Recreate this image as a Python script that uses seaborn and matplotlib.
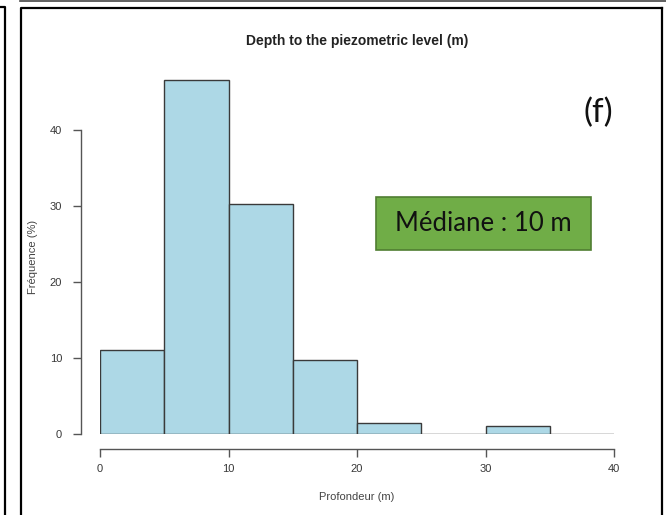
import matplotlib
matplotlib.use("Agg")
import matplotlib.pyplot as plt
from matplotlib.lines import Line2D
from matplotlib.patches import Rectangle
import seaborn as sns
import numpy as np
import pandas as pd

# ---- data ----
bin_edges = [0, 5, 10, 15, 20, 25, 30, 35, 40]
bin_pct = [11.0, 46.6, 30.2, 9.7, 1.4, 0.0, 1.0, 0.0]
x_ticks = [0, 10, 20, 30, 40]
y_ticks = [0, 10, 20, 30, 40]
title = "Depth to the piezometric level (m)"
x_label = "Profondeur (m)"
y_label = "Fréquence (%)"
median_text = "Médiane : 10 m"
panel_tag = "(f)"

sns.set_theme(style="white")
plt.rcParams['font.family'] = ['Liberation Sans', 'DejaVu Sans']

W, H = 666, 515
fig = plt.figure(figsize=(W / 100, H / 100), dpi=100)
fig.patch.set_facecolor("white")

# axes placement (pixel based)
px_x0, px_x40 = 100, 614
px_y0, px_ytop = 434, 69.2
ymax = 48
ax = fig.add_axes([px_x0 / W, 1 - px_y0 / H, (px_x40 - px_x0) / W, (px_y0 - px_ytop) / H])

centers = [(a + b) / 2 for a, b in zip(bin_edges[:-1], bin_edges[1:])]
df = pd.DataFrame({"depth": centers, "pct": bin_pct})
sns.histplot(data=df, x="depth", weights="pct", bins=bin_edges, stat="count",
             color="#ADD8E6", edgecolor="#3a3a3a", linewidth=1.0, alpha=1.0, ax=ax)

ax.set_xlim(0, 40)
ax.set_ylim(0, ymax)
ax.set_xticks(x_ticks)
ax.set_yticks(y_ticks)
ax.set_xlabel("")
ax.set_ylabel("")
for s in ["top", "right"]:
    ax.spines[s].set_visible(False)
gray = "#555555"
ax.spines["left"].set_position(("outward", 19 * 0.72))
ax.spines["bottom"].set_position(("outward", 15 * 0.72))
ax.spines["left"].set_bounds(0, 40)
ax.spines["bottom"].set_bounds(0, 40)
for s in ["left", "bottom"]:
    ax.spines[s].set_color(gray)
    ax.spines[s].set_linewidth(1.0)
ax.tick_params(axis="both", which="both", direction="out", length=5.5, width=1.0,
               color=gray, labelsize=8, labelcolor="#383838",
               left=True, bottom=True)
ax.tick_params(axis="y", pad=8)
ax.tick_params(axis="x", pad=5)
ax.set_facecolor("none")

# titles / labels
fig.text(357 / W, 1 - 41 / H, title, ha="center", va="center", fontsize=10,
         fontweight="bold", color="#222222")
fig.text(357 / W, 1 - 497 / H, x_label, ha="center", va="center", fontsize=8, color="#444444")
fig.text(33 / W, 1 - 257 / H, y_label, ha="center", va="center", fontsize=8,
         color="#444444", rotation=90)

# median box
bx0, bx1, by0, by1 = 376, 591, 197, 250
fig.add_artist(Rectangle((bx0 / W, 1 - by1 / H), (bx1 - bx0) / W, (by1 - by0) / H,
                         transform=fig.transFigure, facecolor="#70AD47",
                         edgecolor="#507E32", linewidth=1.2))
fig.text((bx0 + bx1) / 2 / W, 1 - (by0 + by1) / 2 / H, median_text, ha="center",
         va="center", fontsize=18.5, color="#111111", family=["Lato", "DejaVu Sans"])

fig.text(598 / W, 1 - 113 / H, panel_tag, ha="center", va="center", fontsize=24,
         color="#111111", family=["Lato", "DejaVu Sans"])

# panel frames
def line(xs, ys, lw=2.0, color="black"):
    fig.add_artist(Line2D([x / W for x in xs], [1 - y / H for y in ys],
                          transform=fig.transFigure, color=color, linewidth=lw,
                          solid_capstyle="projecting"))

line([21, 21, 662, 662], [H + 2, 8, 8, 8], lw=1.6)
line([662, 662], [8, H + 2], lw=1.6)
line([0, 5, 5], [7, 7, H + 2], lw=1.6)
line([20, W], [1, 1], lw=1.2, color="#444444")

fig.savefig("out.png", dpi=100)
